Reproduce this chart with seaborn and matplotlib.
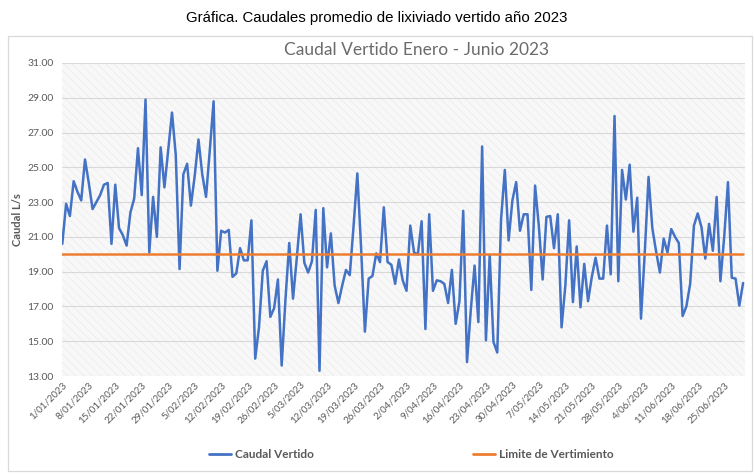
import matplotlib
matplotlib.use("Agg")
import matplotlib.pyplot as plt
from matplotlib.patches import Rectangle
from matplotlib.lines import Line2D
from matplotlib import font_manager
import seaborn as sns
import pandas as pd

# ---------------- data ----------------
start_date = "2023-01-01"
caudal_vertido = [
    20.6, 22.9, 22.2, 24.2, 23.6, 23.1, 25.45, 24.1, 22.6, 23.0,
    23.4, 24.0, 24.1, 20.6, 24.0, 21.5, 21.1, 20.5, 22.4, 23.2,
    26.1, 23.4, 28.9, 20.1, 23.3, 21.0, 26.15, 23.85, 26.0, 28.15,
    25.7, 19.15, 24.6, 25.2, 22.8, 24.5, 26.6, 24.6, 23.3, 26.0,
    28.8, 19.05, 21.35, 21.25, 21.4, 18.7, 18.9, 20.35, 19.65, 19.65,
    21.95, 14.0, 15.8, 19.05, 19.6, 16.4, 16.9, 18.55, 13.6, 17.4,
    20.65, 17.45, 19.8, 22.3, 19.5, 18.95, 19.6, 22.55, 13.3, 22.65,
    19.25, 21.2, 18.2, 17.2, 18.2, 19.1, 18.8, 21.6, 24.65, 20.35,
    15.55, 18.6, 18.75, 20.05, 19.55, 22.7, 19.55, 19.4, 18.3, 19.7,
    18.5, 17.9, 21.65, 20.1, 20.0, 21.9, 15.7, 22.3, 17.9, 18.5,
    18.45, 18.3, 17.2, 19.1, 16.0, 17.3, 22.5, 13.8, 16.8, 19.35,
    16.1, 26.2, 15.05, 19.95, 14.95, 14.35, 22.0, 24.85, 20.8, 23.1,
    24.15, 21.35, 22.3, 22.3, 17.95, 23.95, 21.6, 18.55, 22.15, 22.2,
    20.35, 22.3, 15.8, 18.2, 21.95, 17.25, 20.45, 16.95, 19.45, 17.3,
    18.7, 19.8, 18.6, 18.6, 21.65, 18.85, 27.95, 18.45, 24.85, 23.15,
    25.15, 21.3, 23.25, 16.3, 20.1, 24.45, 21.5, 20.15, 18.95, 20.9,
    20.1, 21.45, 21.0, 20.65, 16.45, 17.0, 18.3, 21.65, 22.35, 21.55,
    19.75, 21.75, 20.2, 23.3, 18.45, 21.0, 24.15, 18.65, 18.6, 17.05,
    18.35,
]
limite_vertimiento = 20.0
y_ticks = [13, 15, 17, 19, 21, 23, 25, 27, 29, 31]
tick_step_days = 7

fechas = pd.date_range(start_date, periods=len(caudal_vertido), freq="D")
df = pd.DataFrame({
    "fecha": fechas,
    "Caudal Vertido": caudal_vertido,
    "Limite de Vertimiento": [limite_vertimiento] * len(caudal_vertido),
})

# ---------------- fonts ----------------
avail = {f.name for f in font_manager.fontManager.ttflist}
title_font = "Liberation Sans Narrow" if "Liberation Sans Narrow" in avail else "Liberation Sans"
chart_font = "Lato" if "Lato" in avail else "DejaVu Sans"

sns.set_theme(style="white")
plt.rcParams["font.family"] = [chart_font, "DejaVu Sans"]
plt.rcParams["hatch.linewidth"] = 0.5
plt.rcParams["hatch.color"] = "#e8e8e8"

W, H = 754, 475
fig = plt.figure(figsize=(W / 100, H / 100), dpi=100)
fig.patch.set_facecolor("white")

# outer chart frame
fig.patches.append(Rectangle((8 / W, 1 - 471 / H), 744 / W, 435 / H,
                             transform=fig.transFigure, fill=False,
                             edgecolor="#d9d9d9", linewidth=0.9, zorder=0))

ax = fig.add_axes([62 / W, 1 - 376 / H, (745 - 62) / W, (376 - 63) / H])
ax.set_facecolor("#f8f8f8")
ax.add_patch(Rectangle((0, 0), 1, 1, transform=ax.transAxes, facecolor="none",
                       edgecolor="#ebebeb", hatch="\\\\\\\\", linewidth=0, zorder=0))

sns.lineplot(data=df, x="fecha", y="Caudal Vertido", ax=ax, color="#4472C4",
             linewidth=1.8, legend=False, zorder=3)
sns.lineplot(data=df, x="fecha", y="Limite de Vertimiento", ax=ax, color="#ED7D31",
             linewidth=1.8, legend=False, zorder=4)

ax.set_ylim(13, 31)
ax.set_yticks(y_ticks)
ax.set_yticklabels([f"{v:.2f}" for v in y_ticks])
ax.set_xlim(fechas[0] - pd.Timedelta(hours=2), fechas[-1] + pd.Timedelta(hours=12))
xt = fechas[::tick_step_days]
ax.set_xticks(xt)
ax.set_xticklabels([f"{d.day}/{d.month:02d}/{d.year}" for d in xt],
                   rotation=45, ha="right", rotation_mode="anchor")

ax.grid(axis="y", color="#d9d9d9", linewidth=0.8)
ax.grid(axis="x", visible=False)
for s in ax.spines.values():
    s.set_visible(False)
ax.tick_params(axis="y", labelsize=7.5, labelcolor="#595959", length=0, pad=6)
ax.tick_params(axis="x", labelsize=7, labelcolor="#595959", length=0, pad=3)

ax.set_xlabel("")
ax.set_ylabel("Caudal L/s", fontsize=8, fontweight="bold", color="#595959", labelpad=3)

fig.text(417 / W, 1 - 50 / H, "Caudal Vertido Enero - Junio 2023",
         ha="center", va="center", fontsize=12.5, color="#6b6b6b")

fig.text(377 / W, 1 - 18 / H, "Gráfica. Caudales promedio de lixiviado vertido año 2023",
         ha="center", va="center", fontsize=10.8, family=[title_font, "DejaVu Sans"], color="black")

handles = [Line2D([], [], color="#4472C4", linewidth=2),
           Line2D([], [], color="#ED7D31", linewidth=2)]
leg = fig.legend(handles, ["Caudal Vertido", "Limite de Vertimiento"], loc="center",
                 bbox_to_anchor=(411 / W, 1 - 455 / H), ncol=2, frameon=False,
                 prop={"size": 8.5, "weight": "bold", "family": [chart_font, "DejaVu Sans"]},
                 handlelength=1.9, handletextpad=0.3, columnspacing=13.5)
for t in leg.get_texts():
    t.set_color("#595959")

fig.savefig("out.png", dpi=100)
